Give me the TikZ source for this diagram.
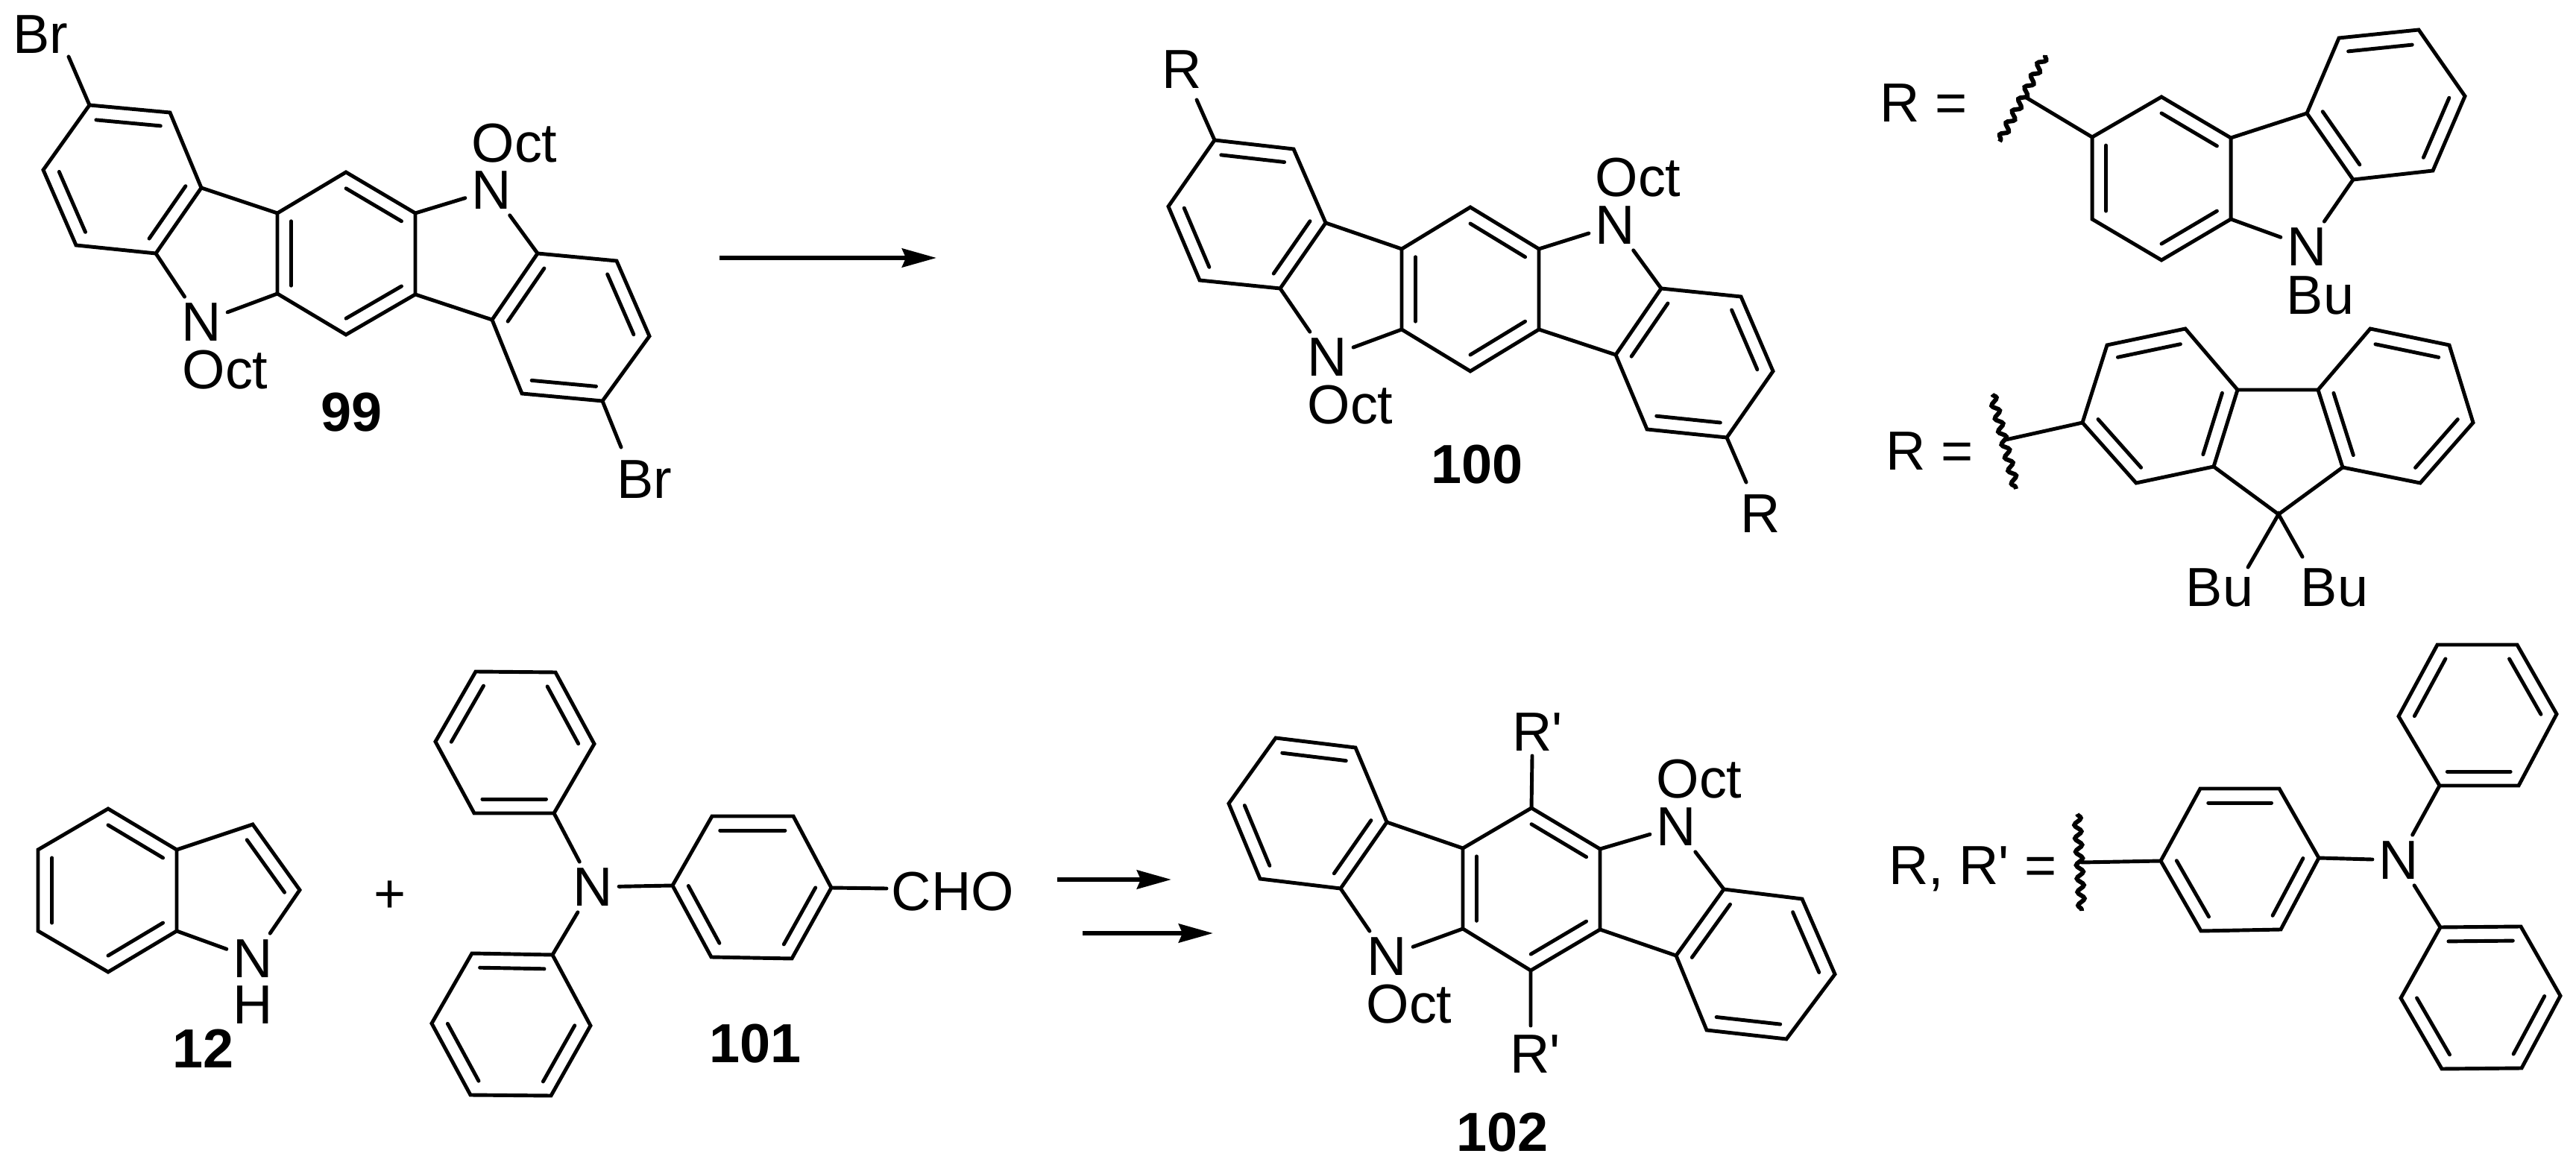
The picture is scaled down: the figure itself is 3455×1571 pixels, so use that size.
\documentclass[tikz,border=0pt]{standalone}
\usepackage{fontspec}
\setmainfont{Liberation Sans}
\usetikzlibrary{calc,arrows.meta,decorations.pathmorphing}
\tikzset{
  bond/.style={line width=1.4pt,line cap=round},
  wavy/.style={line width=1.7pt,decorate,decoration={snake,segment length=0.18cm,amplitude=0.045cm}},
  rxn/.style={line width=1.7pt,-{Stealth[length=0.46cm,width=0.25cm,inset=0.05cm]}},
  atom/.style={font=\fontsize{21}{25}\selectfont,inner sep=2.2pt},
  grp/.style={font=\fontsize{21}{25}\selectfont,inner sep=0pt},
  cmpd/.style={font=\fontsize{21}{25}\selectfont\bfseries,inner sep=0pt}
}
%% six-membered ring, inner lines on bonds 1-2, 3-4, 5-6
\newcommand{\hexa}[6]{
  \draw[bond] (#1) -- (#2) -- (#3) -- (#4) -- (#5) -- (#6) -- cycle;
  \coordinate (o) at ($(#1)!0.5!(#4)$);
  \draw[bond] ($(#1)!0.2!(o)$) -- ($(#2)!0.2!(o)$);
  \draw[bond] ($(#3)!0.2!(o)$) -- ($(#4)!0.2!(o)$);
  \draw[bond] ($(#5)!0.2!(o)$) -- ($(#6)!0.2!(o)$);
}
%% indolocarbazole skeleton, #1 is the prefix of its coordinates
\newcommand{\skeleton}[1]{
  \hexa{#1a1}{#1a2}{#1a3}{#1a4}{#1a5}{#1a6}
  \hexa{#1b6}{#1b1}{#1b2}{#1b3}{#1b4}{#1b5}
  \hexa{#1c6}{#1c1}{#1c2}{#1c3}{#1c4}{#1c5}
  \draw[bond] (#1a3) -- (#1b1) (#1c6) -- (#1b4);
  \draw[bond] (#1a4) -- (#1nl) (#1nl) -- (#1b6);
  \draw[bond] (#1b3) -- (#1nu) (#1nu) -- (#1c1);
}
\begin{document}
\begin{tikzpicture}[x=0.01cm,y=-0.01cm]
  \useasboundingbox (0,0) rectangle (3455,1571);
  %% 99
  \foreach \n/\x/\y in {xa1/120/141,xa2/228/151,xa3/270/252,xa4/209/340,xa5/102/329,xa6/58/228,
    xb1/372/286,xb2/464/231,xb3/557/286,xb4/557/395,xb5/464/449,xb6/372/394,
    xc1/721/340,xc2/827/350,xc3/871/451,xc4/808/538,xc5/700/528,xc6/660/429,
    xe1/92/76,xe2/833/600}
    \coordinate (\n) at (\x,\y);
  \node[atom] (xnu) at (659,255) {N};
  \node[atom] (xnl) at (270,432) {N};
  \node[grp] (xbr1) at (54,46) {Br};
  \node[grp] (xbr2) at (864,643) {Br};
  \node[grp] (xoct1) at (690,192) {Oct};
  \node[grp] (xoct2) at (302,496) {Oct};
  \node[cmpd] (lab99) at (472,553) {99};
  \skeleton{x}
  \draw[bond] (xa1) -- (xe1) (xc4) -- (xe2);
  %% first arrow
  \coordinate (r1a) at (965,346);
  \coordinate (r1b) at (1256,346);
  \draw[rxn] (r1a) -- (r1b);
  %% 100
  \foreach \n/\x/\y in {ya1/1629/188,ya2/1735/200,ya3/1778/299,ya4/1717/387,ya5/1609/376,ya6/1567/277,
    yb1/1880/334,yb2/1972/278,yb3/2064/334,yb4/2064/442,yb5/1972/498,yb6/1880/442,
    yc1/2228/387,yc2/2335/398,yc3/2378/498,yc4/2316/587,yc5/2209/576,yc6/2167/476,
    ye1/1605/134,ye2/2342/647}
    \coordinate (\n) at (\x,\y);
  \node[atom] (ynu) at (2166,302) {N};
  \node[atom] (ynl) at (1780,479) {N};
  \node[grp] (yr1) at (1585,93) {R};
  \node[grp] (yr2) at (2361,689) {R};
  \node[grp] (yoct1) at (2197,238) {Oct};
  \node[grp] (yoct2) at (1811,543) {Oct};
  \node[cmpd] (lab100) at (1981,623) {100};
  \skeleton{y}
  \draw[bond] (ya1) -- (ye1) (yc4) -- (ye2);
  %% R = carbazolyl
  \foreach \n/\x/\y in {d1/2806/184,d2/2899/130,d3/2992/185,d4/2992/294,d5/2899/349,d6/2806/294,
    f1/3094/152,f2/3137/51,f3/3244/40,f4/3306/129,f5/3263/229,f6/3156/241,
    w1a/2743/74,w1b/2682/190,w1c/2716/130}
    \coordinate (\n) at (\x,\y);
  \node[grp] (reqa) at (2580,138) {R =};
  \node[atom] (dn) at (3094,331) {N};
  \node[grp] (dbu) at (3112,396) {Bu};
  \hexa{d6}{d1}{d2}{d3}{d4}{d5}
  \hexa{f6}{f1}{f2}{f3}{f4}{f5}
  \draw[bond] (d3) -- (f1) (d4) -- (dn) (dn) -- (f6) (w1c) -- (d1);
  \draw[wavy] (w1a) -- (w1b);
  %% R = fluorenyl
  \foreach \n/\x/\y in {g1/2793/567,g2/2826/463,g3/2931/441,g4/3001/523,g5/2969/626,g6/2865/648,
    h1/3109/523,h2/3179/441,h3/3285/463,h4/3317/567,h5/3246/648,h6/3142/627,
    c9/3056/690,c9a/3015/761,c9b/3088/747,
    w2a/2672/529,w2b/2704/656,w2c/2690/590}
    \coordinate (\n) at (\x,\y);
  \node[grp] (reqb) at (2588,605) {R =};
  \node[grp] (gbu1) at (2977,788) {Bu};
  \node[grp] (gbu2) at (3131,788) {Bu};
  \hexa{g6}{g1}{g2}{g3}{g4}{g5}
  \hexa{h6}{h1}{h2}{h3}{h4}{h5}
  \draw[bond] (g4) -- (h1) (g5) -- (c9) -- (h6) (c9a) -- (c9) -- (c9b) (w2c) -- (g1);
  \draw[wavy] (w2a) -- (w2b);
  %% 12
  \foreach \n/\x/\y in {i1/145/1085,i2/237/1140,i3/237/1249,i4/145/1304,i5/51/1249,i6/51/1140,
    i7/339/1106,i8/402/1194,io/300/1210}
    \coordinate (\n) at (\x,\y);
  \node[atom] (in) at (339,1286) {N};
  \node[grp] (ih) at (339,1348) {H};
  \node[cmpd] (lab12) at (273,1407) {12};
  \hexa{i1}{i2}{i3}{i4}{i5}{i6}
  \draw[bond] (i2) -- (i7) -- (i8) -- (in) (in) -- (i3);
  \draw[bond] ($(i7)!0.2!(io)$) -- ($(i8)!0.2!(io)$);
  \node[grp] (plus) at (523,1203) {+};
  %% 101
  \foreach \n/\x/\y in {j1/638/901,j2/745/902,j3/797/998,j4/743/1091,j5/636/1091,j6/584/995,
    k1/741/1281,k2/633/1279,k3/579/1373,k4/631/1469,k5/739/1470,k6/792/1376,
    l1/902/1188,l2/955/1095,l3/1064/1095,l4/1115/1191,l5/1062/1286,l6/954/1284,l7/1189/1192}
    \coordinate (\n) at (\x,\y);
  \node[atom] (jn) at (795,1190) {N};
  \node[grp] (cho) at (1278,1196) {CHO};
  \node[cmpd] (lab101) at (1013,1400) {101};
  \hexa{j6}{j1}{j2}{j3}{j4}{j5}
  \hexa{k1}{k2}{k3}{k4}{k5}{k6}
  \hexa{l2}{l3}{l4}{l5}{l6}{l1}
  \draw[bond] (j4) -- (jn) (k1) -- (jn) (jn) -- (l1) (l4) -- (l7);
  %% two arrows
  \coordinate (r2a) at (1418,1180);
  \coordinate (r2b) at (1571,1180);
  \coordinate (r3a) at (1452,1252);
  \coordinate (r3b) at (1627,1252);
  \draw[rxn] (r2a) -- (r2b);
  \draw[rxn] (r3a) -- (r3b);
  %% 102
  \foreach \n/\x/\y in {za1/1711/990,za2/1818/1003,za3/1860/1103,za4/1798/1192,za5/1690/1179,za6/1648/1078,
    zb1/1962/1138,zb2/2054/1084,zb3/2146/1139,zb4/2146/1247,zb5/2053/1302,zb6/1962/1246,
    zc1/2312/1193,zc2/2417/1206,zc3/2461/1307,zc4/2396/1394,zc5/2289/1382,zc6/2248/1282,
    ze1/2055/1014,ze2/2053/1376}
    \coordinate (\n) at (\x,\y);
  \node[atom] (znu) at (2248,1109) {N};
  \node[atom] (znl) at (1860,1283) {N};
  \node[grp] (zoct1) at (2279,1045) {Oct};
  \node[grp] (zoct2) at (1890,1347) {Oct};
  \node[grp] (zr1) at (2062,982) {R\textquotesingle};
  \node[grp] (zr2) at (2059,1414) {R\textquotesingle};
  \node[cmpd] (lab102) at (2015,1519) {102};
  \skeleton{z}
  \draw[bond] (zb2) -- (ze1) (zb5) -- (ze2);
  %% R, R' = triphenylamine
  \foreach \n/\x/\y in {m1/2898/1155,m2/2951/1058,m3/3057/1058,m4/3110/1151,m5/3059/1247,m6/2952/1249,
    n1/3272/1054,n2/3217/961,n3/3269/865,n4/3376/865,n5/3429/958,n6/3378/1054,
    p1/3273/1244,p2/3381/1243,p3/3434/1336,p4/3382/1433,p5/3275/1434,p6/3220/1339,
    w3a/2786/1092,w3b/2792/1222,w3c/2792/1157}
    \coordinate (\n) at (\x,\y);
  \node[grp] (reqc) at (2646,1166) {R, R\textquotesingle{} =};
  \node[atom] (mn) at (3217,1154) {N};
  \hexa{m6}{m1}{m2}{m3}{m4}{m5}
  \hexa{n6}{n1}{n2}{n3}{n4}{n5}
  \hexa{p1}{p2}{p3}{p4}{p5}{p6}
  \draw[bond] (w3c) -- (m1) (m4) -- (mn) (n1) -- (mn) (p1) -- (mn);
  \draw[wavy] (w3a) -- (w3b);
\end{tikzpicture}
\end{document}
